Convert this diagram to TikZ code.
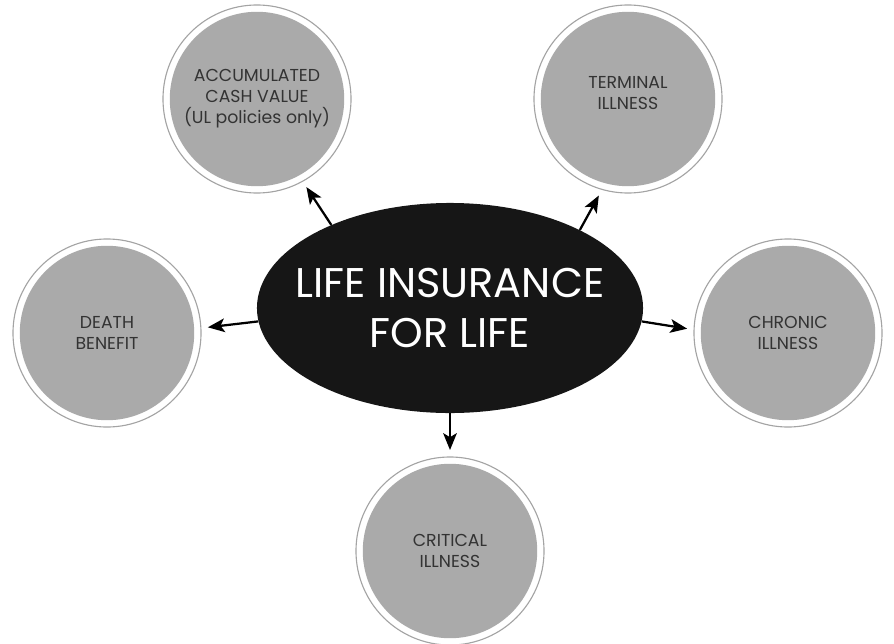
\documentclass[tikz,border=0pt]{standalone}
\usepackage{fontspec}
\setmainfont{Poppins}
\usetikzlibrary{shapes.geometric,arrows.meta}
\definecolor{discgray}{HTML}{AAAAAA}
\definecolor{ringgray}{HTML}{A4A4A4}
\definecolor{bubbletext}{HTML}{333333}
\definecolor{hubblack}{HTML}{161616}

\begin{document}
\begin{tikzpicture}[x=0.025cm,y=-0.025cm,
  hub/.style={ellipse,fill=hubblack,minimum width=9.65cm,minimum height=5.25cm,inner sep=0pt},
  hubtext/.style={text=white,align=center,font=\fontsize{29.5}{35}\selectfont},
  bubble/.style={circle,draw=ringgray,line width=0.8pt,fill=white,minimum size=4.7cm,inner sep=0pt,align=center,text=bubbletext,font=\fontsize{12.3}{15}\selectfont,
    path picture={\fill[discgray] (path picture bounding box.center) circle (2.18cm);}},
  feed/.style={-{Stealth[length=0.42cm,width=0.34cm,inset=0.1cm]},line width=1.6pt,shorten >=0.16cm}]

\useasboundingbox (0,0) rectangle (894,644);

\node[hub,label={[hubtext]center:{LIFE INSURANCE\\FOR LIFE}}] (life) at (450,308) {};

\node[bubble] (cash) at (257,99) {ACCUMULATED\\CASH VALUE\\(UL policies only)};
\node[bubble] (terminal) at (628,99) {TERMINAL\\ILLNESS\\[-6.5pt]};
\node[bubble] (death) at (107,333) {DEATH\\BENEFIT};
\node[bubble] (chronic) at (788,333) {CHRONIC\\ILLNESS};
\node[bubble] (critical) at (450,551) {CRITICAL\\ILLNESS};

\draw[feed] (life.145) -- (cash.-61);
\draw[feed] (life.31) -- (terminal.-106);
\draw[feed] (life.184) -- (death.3);
\draw[feed] (life.-4) -- (chronic.178);
\draw[feed] (life.south) -- (critical.north);

\end{tikzpicture}
\end{document}
